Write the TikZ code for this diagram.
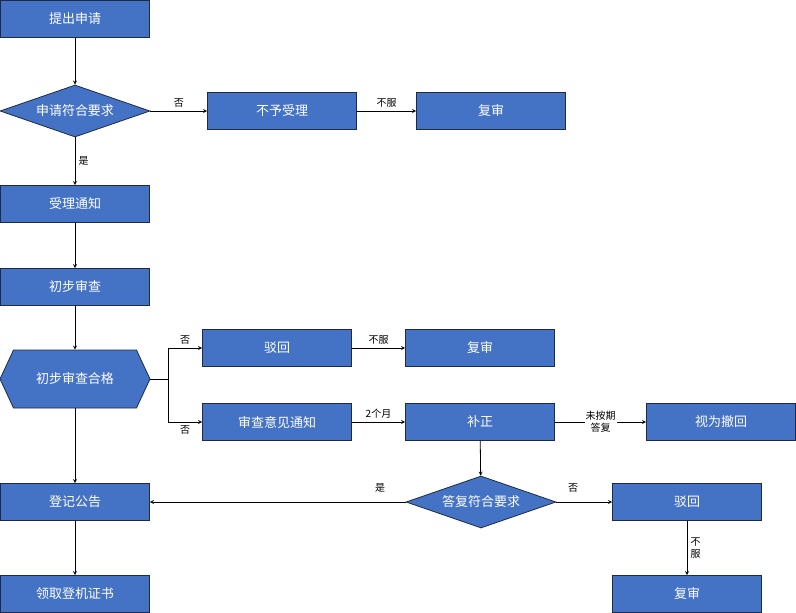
\documentclass[tikz,border=0pt]{standalone}
\usepackage{fontspec}
\setmainfont{Noto Sans CJK SC}
\usetikzlibrary{shapes.geometric,shapes.symbols,positioning}
\definecolor{boxblue}{HTML}{4472C4}
\definecolor{boxline}{HTML}{1F2A44}

\begin{document}
\begin{tikzpicture}[x=1pt,y=-1pt,>=stealth,thick,
    box/.style={rectangle,draw=boxline,fill=boxblue,text=white,minimum width=149pt,minimum height=37pt,font=\fontsize{13}{15}\selectfont},
    test/.style={diamond,aspect=3.2,draw=boxline,fill=boxblue,text=white,inner sep=0pt,minimum width=150pt,minimum height=52pt,font=\fontsize{13}{15}\selectfont},
    hexbox/.style={signal,signal to=west and east,signal pointer angle=130,draw=boxline,fill=boxblue,text=white,minimum width=150pt,minimum height=58pt,inner sep=0pt,font=\fontsize{13}{15}\selectfont},
    lbl/.style={font=\fontsize{10}{12}\selectfont}]

            \useasboundingbox (0,0) rectangle (796,613);

            \node[box] (1) at (75,19) {提出申请};
            \node[test] (2) at (75,111) {申请符合要求};
            \node[box] (3) at (282,111) {不予受理};
            \node[box] (4) at (491,111) {复审};
            \node[box] (5) at (75,204) {受理通知};
            \node[box] (6) at (75,287) {初步审查};
            \node[hexbox] (7) at (75,379) {初步审查合格};
            \node[box] (8) at (277,348) {驳回};
            \node[box] (9) at (480,348) {复审};
            \node[box] (10) at (277,422) {审查意见通知};
            \node[box] (11) at (480,422) {补正};
            \node[box] (12) at (721,422) {视为撤回};
            \node[test] (13) at (481,502) {答复符合要求};
            \node[box] (14) at (75,502) {登记公告};
            \node[box] (15) at (687,502) {驳回};
            \node[box] (16) at (687,594) {复审};
            \node[box] (17) at (75,594) {领取登机证书};

            \draw[->] (1) to (2);
            \draw[->] (2) to node[lbl,right] {是} (5);
            \draw[->] (2) to node[lbl,above] {否} (3);
            \draw[->] (3) to node[lbl,above] {不服} (4);
            \draw[->] (5) to (6);
            \draw[->] (6.south) to (7.north);
            \draw[->] (7.east) -- (168,379) |- node[lbl,pos=0.75,above] {否} (8);
            \draw[->] (7.east) -- (168,379) |- node[lbl,pos=0.75,below] {否} (10);
            \draw[->] (8) to node[lbl,above] {不服} (9);
            \draw[->] (10) to node[lbl,above] {2个月} (11);
            \draw[->] (11) to node[lbl,align=center,fill=white,inner sep=1pt] {未按期\\答复} (12);
            \draw[->] (11) to (13);
            \draw[->] (13) to node[lbl,above=6pt,pos=0.1] {是} (14);
            \draw[->] (13) to node[lbl,above=6pt,pos=0.3] {否} (15);
            \draw[->] (15) to node[lbl,right,align=center] {不\\服} (16);
            \draw[->] (7.south) to (14.north);
            \draw[->] (14) to (17);

        \end{tikzpicture}
\end{document}
